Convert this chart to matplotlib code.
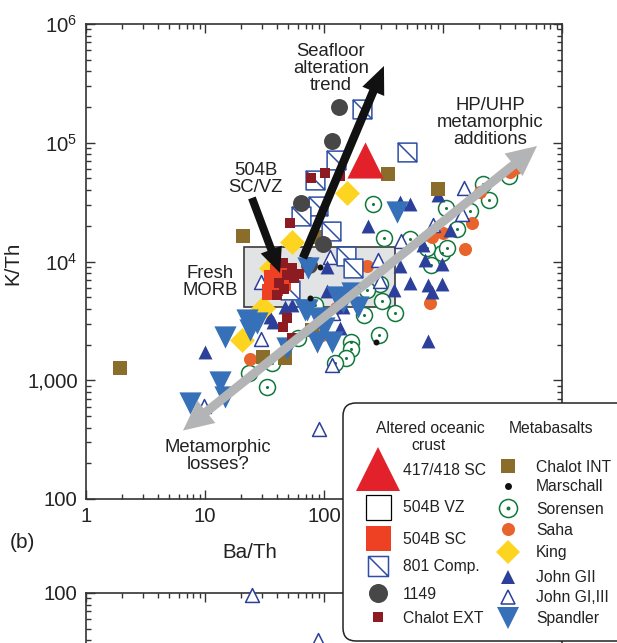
import numpy as np
import matplotlib
matplotlib.use("Agg")
import matplotlib.pyplot as plt
from matplotlib.path import Path
from matplotlib.patches import Rectangle, FancyBboxPatch
from matplotlib.ticker import FixedLocator, FixedFormatter, LogLocator, NullFormatter

plt.rcParams['font.family'] = ['Liberation Sans', 'DejaVu Sans']
plt.rcParams['mathtext.default'] = 'regular'

# --- Datos (Ba/Th, K/Th) ---
chalot_int_ba = [1.93, 20.8, 90.8, 345, 908, 30.7, 47.0, 79.3]
chalot_int_k = [1270, 16400, 16100, 54600, 40800, 1570, 1540, 2650]

chalot_ext_ba = [77.8, 102, 136, 51.8, 45.2, 53.8, 61.7, 48.9, 41.9, 46.1, 40.3, 56.0, 48.9, 45.2, 53.8]
chalot_ext_k = [50500, 55600, 52500, 21100, 9710, 8820, 7850, 7690, 6590, 5860, 5220, 7260, 3340, 2810, 2270]

sc504_ba = [36.6, 41.0, 38.7, 45.2, 35.2, 42.7]
sc504_k = [7260, 8160, 5990, 6590, 5540, 8820]

vz504_ba = [43.6]
vz504_k = [7400]

comp801_ba = [209, 126, 498, 84.0, 89.1, 64.1, 115, 153, 175, 51.8]
comp801_k = [192000, 71600, 83600, 48600, 29300, 24200, 18100, 11100, 8820, 5750]

site1149_ba = [134, 117, 64.1, 98.1, 74.8]
site1149_k = [200000, 103500, 31100, 14000, 9350]

sc417_ba = [221]
sc417_k = [71600]

marschall_ba = [76.3, 92.5, 274]
marschall_k = [4930, 9000, 2100]

sorensen_ba = [258, 319, 528, 1060, 1686, 2168, 3589, 1312, 981, 1081, 793, 734, 296, 230,
               307, 395, 217, 290, 169, 169, 153, 124, 84.0, 60.5, 36.6, 23.4, 33.2, 2436]
sorensen_k = [30500, 15800, 15500, 28200, 26600, 44900, 52500, 18800, 11800, 13000, 9350, 13000, 6470, 5750,
              4650, 3680, 3540, 2400, 2100, 1830, 1540, 1400, 4310, 2270, 1400, 1150, 877, 33000]

saha_ba = [230, 778, 1753, 1530, 1000, 809, 3656, 4105, 2047, 23.9, 126, 96.2]
saha_k = [9170, 4480, 21100, 12700, 17400, 16100, 56700, 61300, 38500, 1510, 4060, 2400]

king_ba = [156, 53.8, 35.9, 30.7, 20.5]
king_k = [37800, 14600, 8820, 4060, 2180]

john2_ba = [10, 234, 435, 528, 908, 1145, 679, 435, 528, 748, 981, 809, 387, 706, 981, 748,
            144, 136, 106, 106, 53.8, 35.2, 26.3, 37.3, 47.0]
john2_k = [1730, 19900, 31700, 30500, 36300, 18400, 13800, 9170, 6590, 6340, 6470, 5540, 5750, 10300, 9530, 2140,
           4140, 2750, 5650, 9000, 4310, 3410, 3540, 3090, 4140]

john13_ba = [9.8, 90.8, 29.6, 112, 284, 444, 824, 1500, 1445, 296, 119, 117, 29.6]
john13_k = [607, 388, 6720, 10900, 10300, 14900, 20300, 41600, 25100, 6850, 3680, 1340, 2220]

# panel inferior (solo se ve el borde superior)
john13_low_ba = [25, 89]
john13_low_k = [97, 40]

spandler_ba = [7.48, 13.4, 14.7, 14.7, 22.5, 27.4, 23.9, 69.2, 89.1, 87.4, 117, 48.9, 73.4, 129,
               172, 193, 144, 72, 411, 100]
spandler_k = [643, 966, 722, 2310, 3210, 3030, 2650, 3910, 3340, 2100, 2100, 1870, 8820, 5020,
              5430, 4140, 4560, 3910, 26100, 2750]

# caja MORB fresco
morb_ba = (21.3, 395)
morb_k = (4140, 13250)

# colores
c_int = '#8a6d2b'
c_ext = '#8c1c22'
c_sc = '#ee4023'
c_417 = '#e3212b'
c_801 = '#2e4fa3'
c_1149 = '#474747'
c_sor = '#11783c'
c_saha = '#e8642c'
c_king = '#fdd521'
c_john = '#2c409b'
c_spa = '#3570b8'
c_arrow = '#b3b4b6'

# marcador cuadrado con diagonal (801 Comp.)
sq_diag = Path([(-1, -1), (-1, 1), (1, 1), (1, -1), (-1, -1), (-1, 1), (1, -1)],
               [Path.MOVETO, Path.LINETO, Path.LINETO, Path.LINETO, Path.CLOSEPOLY, Path.MOVETO, Path.LINETO])

fig = plt.figure(figsize=(6.17, 6.43), dpi=100)
ax = fig.add_axes([86 / 617, 1 - 499 / 643, 476 / 617, 475 / 643])
ax.set_xscale('log')
ax.set_yscale('log')
ax.set_xlim(1, 1e4)
ax.set_ylim(100, 1e6)

ax.add_patch(Rectangle((morb_ba[0], morb_k[0]), morb_ba[1] - morb_ba[0], morb_k[1] - morb_k[0],
                       facecolor='#e2e3e5', edgecolor='#3a3a3a', lw=1.2, zorder=1))

ax.scatter(sorensen_ba, sorensen_k, s=11.5 ** 2, marker='o', facecolors='white', edgecolors=c_sor, linewidths=1.1, zorder=2)
ax.scatter(sorensen_ba, sorensen_k, s=2.2 ** 2, marker='o', color=c_sor, linewidths=0, zorder=2)
ax.scatter(saha_ba, saha_k, s=9.4 ** 2, marker='o', color=c_saha, linewidths=0, zorder=3)
ax.scatter(john13_ba, john13_k, s=10 ** 2, marker='^', facecolors='white', edgecolors=c_john, linewidths=1.1, zorder=3)
ax.scatter(john2_ba, john2_k, s=10 ** 2, marker='^', color=c_john, linewidths=0, zorder=4)
ax.scatter(king_ba, king_k, s=12.7 ** 2, marker='D', color=c_king, linewidths=0, zorder=4)
ax.scatter(chalot_int_ba, chalot_int_k, s=10 ** 2, marker='s', color=c_int, linewidths=0, zorder=4)
ax.scatter(comp801_ba, comp801_k, s=13.5 ** 2, marker=sq_diag, facecolors='white', edgecolors=c_801, linewidths=1.1, zorder=5)
ax.scatter(site1149_ba, site1149_k, s=12.2 ** 2, marker='o', color=c_1149, linewidths=0, zorder=5)
ax.scatter(vz504_ba, vz504_k, s=11 ** 2, marker='s', facecolors='white', edgecolors='k', linewidths=1, zorder=5)
ax.scatter(sc504_ba, sc504_k, s=11 ** 2, marker='s', color=c_sc, linewidths=0, zorder=6)
ax.scatter(spandler_ba, spandler_k, s=16 ** 2, marker='v', color=c_spa, linewidths=0, zorder=6)
ax.scatter(chalot_ext_ba, chalot_ext_k, s=6.5 ** 2, marker='s', color=c_ext, linewidths=0, zorder=7)
ax.scatter(marschall_ba, marschall_k, s=4.3 ** 2, marker='o', color='#111111', linewidths=0, zorder=7)
ax.scatter(sc417_ba, sc417_k, s=26 ** 2, marker='^', color=c_417, linewidths=0, zorder=7)


def flecha(tail, tip, color, hl=1.0, hw=1.0, tw=0.3, ms=18):
    ax.annotate('', xy=tip, xytext=tail,
                arrowprops=dict(arrowstyle=f'simple,head_length={hl},head_width={hw},tail_width={tw}',
                                mutation_scale=ms, color=color, lw=0, shrinkA=0, shrinkB=0),
                zorder=9)


# flechas
flecha((66.6, 10700), (319, 443000), '#111111', hl=1.1, hw=0.95, tw=0.34)
flecha((24.8, 34300), (42.7, 8000), '#111111', hl=1.0, hw=0.9, tw=0.32)
gris_lo = (6.53, 377)
gris_hi = (6166, 93900)
gris_mid = (np.sqrt(gris_lo[0] * gris_hi[0]), np.sqrt(gris_lo[1] * gris_hi[1]))
flecha(gris_mid, gris_hi, c_arrow, hl=1.2, hw=1.15, tw=0.36)
flecha(gris_mid, gris_lo, c_arrow, hl=1.2, hw=1.15, tw=0.36)

# textos
txt = dict(ha='center', va='center', fontsize=13.3, linespacing=1.0, color='#222222', zorder=10)
ax.text(114, 418000, 'Seafloor\nalteration\ntrend', **txt)
ax.text(26.7, 49500, '504B\nSC/VZ', **txt)
ax.text(2483, 146700, 'HP/UHP\nmetamorphic\nadditions', **txt)
ax.text(12.8, 230, 'Metamorphic\nlosses?', **txt)
ax.text(11.0, 6720, 'Fresh\nMORB', **txt)

# ejes (las etiquetas bajo la leyenda quedan vacías)
ax.xaxis.set_major_locator(FixedLocator([1, 10, 100, 1000, 1e4]))
ax.xaxis.set_major_formatter(FixedFormatter(['1', '10', '100', '', '']))
ax.yaxis.set_major_locator(FixedLocator([100, 1000, 1e4, 1e5, 1e6]))
ax.yaxis.set_major_formatter(FixedFormatter(['100', '1,000', r'$10^4$', r'$10^5$', r'$10^6$']))
for a in (ax.xaxis, ax.yaxis):
    a.set_minor_locator(LogLocator(base=10, subs=np.arange(2, 10), numticks=20))
    a.set_minor_formatter(NullFormatter())
ax.tick_params(which='both', direction='in', top=True, right=True, color='#333333', width=1.0,
               labelsize=14.7, pad=6, labelcolor='#222222')
ax.tick_params(which='major', length=6.5)
ax.tick_params(which='minor', length=3.5)
for s in ax.spines.values():
    s.set_linewidth(1.2)
    s.set_color('#333333')
ax.set_xlabel('Ba/Th', fontsize=14.8, color='#222222')
ax.set_ylabel('K/Th', fontsize=14.8, color='#222222')
ax.xaxis.set_label_coords(0.345, -0.093)
ax.yaxis.set_label_coords(-0.134, 0.497)

# panel inferior (recortado)
ax2 = fig.add_axes([86 / 617, 1 - 711.75 / 643, 476 / 617, 118.75 / 643])
ax2.set_xscale('log')
ax2.set_yscale('log')
ax2.set_xlim(1, 1e4)
ax2.set_ylim(10, 100)
ax2.scatter(john13_low_ba, john13_low_k, s=10 ** 2, marker='^', facecolors='white', edgecolors=c_john,
            linewidths=1.1, zorder=3, clip_on=False)
ax2.xaxis.set_major_locator(FixedLocator([1, 10, 100, 1000, 1e4]))
ax2.yaxis.set_major_locator(FixedLocator([100]))
ax2.yaxis.set_major_formatter(FixedFormatter(['100']))
for a in (ax2.xaxis, ax2.yaxis):
    a.set_minor_locator(LogLocator(base=10, subs=np.arange(2, 10), numticks=20))
    a.set_minor_formatter(NullFormatter())
ax2.tick_params(which='both', direction='in', top=True, right=True, labelbottom=False,
                color='#333333', width=1.0, labelsize=14.7, pad=6, labelcolor='#222222')
ax2.tick_params(which='major', length=6.5)
ax2.tick_params(which='minor', length=3.5)
for s in ax2.spines.values():
    s.set_linewidth(1.2)
    s.set_color('#333333')

# capa superior para la leyenda y la etiqueta (b)
lax = fig.add_axes([0, 0, 1, 1])
lax.set_xlim(0, 617)
lax.set_ylim(643, 0)
lax.axis('off')
lax.text(22, 542, '(b)', fontsize=15, ha='center', va='center', color='#222222')

lax.add_patch(FancyBboxPatch((343, 403), 320, 238, boxstyle='round,pad=0,rounding_size=13',
                             facecolor='white', edgecolor='#222222', lw=1.1))
ley = dict(fontsize=11.3, va='center', ha='left', color='#222222')
lax.text(430.7, 428.5, 'Altered oceanic', fontsize=11.3, ha='center', va='center', color='#222222')
lax.text(429, 445.5, 'crust', fontsize=11.3, ha='center', va='center', color='#222222')
lax.text(550.7, 428.5, 'Metabasalts', fontsize=11.3, ha='center', va='center', color='#222222')

izq = [
    ('417/418 SC', 469, dict(marker='^', ms=31.5, color=c_417, mew=0)),
    ('504B VZ', 506.5, dict(marker='s', ms=18, mfc='white', mec='k', mew=0.9)),
    ('504B SC', 537.5, dict(marker='s', ms=18, color=c_sc, mew=0)),
    ('801 Comp.', 565.5, dict(marker=sq_diag, ms=14.4, mfc='white', mec=c_801, mew=1.1)),
    ('1149', 593.3, dict(marker='o', ms=13.7, color=c_1149, mew=0)),
    ('Chalot EXT', 616.7, dict(marker='s', ms=7.2, color=c_ext, mew=0)),
]
for nombre, yy, st in izq:
    lax.plot([378], [yy], linestyle='none', **st)
    lax.text(403, yy + 1.5, nombre, **ley)

der = [
    ('Chalot INT', 466, dict(marker='s', ms=10, color=c_int, mew=0)),
    ('Marschall', 485.5, dict(marker='o', ms=5, color='#111111', mew=0)),
    ('Sorensen', 508.3, dict(marker='o', ms=13, mfc='white', mec=c_sor, mew=1.1)),
    ('Saha', 529, dict(marker='o', ms=9.4, color=c_saha, mew=0)),
    ('King', 551.7, dict(marker='D', ms=12.7, color=c_king, mew=0)),
    ('John GII', 576.7, dict(marker='^', ms=9.6, color=c_john, mew=0)),
    ('John GI,III', 596.7, dict(marker='^', ms=9.6, mfc='white', mec=c_john, mew=1.1)),
    ('Spandler', 617.7, dict(marker='v', ms=16, color=c_spa, mew=0)),
]
for nombre, yy, st in der:
    lax.plot([507.5], [yy], linestyle='none', **st)
    lax.text(536, yy + 1.2, nombre, **ley)
lax.plot([508.3], [508.3], marker='o', ms=1.8, color=c_sor, linestyle='none')

fig.savefig('out.png', dpi=100, facecolor='white')
